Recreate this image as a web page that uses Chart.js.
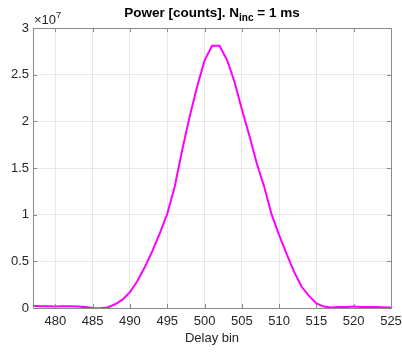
<!DOCTYPE html>
<html>
<head>
<meta charset="utf-8">
<script src="https://cdn.jsdelivr.net/npm/chart.js@4/dist/chart.umd.min.js"></script>
<style>
  html, body { margin: 0; padding: 0; background: #fff; }
</style>
</head>
<body>
<canvas id="c" width="402" height="352"></canvas>
<script>
// delay bins and power, power in units of 1e7 counts
const delayBins = [477, 478, 479, 480, 481, 482, 483, 484, 485, 486, 487, 488, 489, 490, 491, 492,
  493, 494, 495, 496, 497, 498, 499, 500, 501, 502, 503, 504, 505, 506, 507, 508, 509, 510,
  511, 512, 513, 514, 515, 516, 517, 518, 519, 520, 521, 522, 523, 524, 525];
const power = [0.025, 0.02, 0.02, 0.015, 0.02, 0.02, 0.015, 0.01, 0.0, -0.003, 0.005, 0.04, 0.09, 0.17, 0.29, 0.44,
  0.61, 0.8, 1.01, 1.3, 1.69, 2.05, 2.37, 2.65, 2.81, 2.81, 2.66, 2.43, 2.13, 1.85, 1.55, 1.3, 1.0, 0.78,
  0.58, 0.39, 0.23, 0.13, 0.05, 0.015, 0.005, 0.01, 0.01, 0.015, 0.01, 0.01, 0.01, 0.005, 0.005];
const xTicks = [480, 485, 490, 495, 500, 505, 510, 515, 520, 525];
const yTicks = [0, 0.5, 1, 1.5, 2, 2.5, 3];
const xRange = [477, 525];
const yRange = [0, 3];

const FONT = "'Liberation Sans', Arial, Helvetica, sans-serif";
const AXIS_COL = "#8a8a8a";
const TEXT_COL = "#262626";
const FS = 13;

const matlabAxes = {
  id: "matlabAxes",
  afterDraw(chart) {
    const { ctx, chartArea: a, scales: { x, y } } = chart;
    ctx.save();
    // inward tick marks on all four sides
    ctx.strokeStyle = AXIS_COL;
    ctx.lineWidth = 1;
    ctx.beginPath();
    for (const v of xTicks) {
      const px = Math.round(x.getPixelForValue(v)) + 0.5;
      ctx.moveTo(px, a.bottom); ctx.lineTo(px, a.bottom - 4);
      ctx.moveTo(px, a.top); ctx.lineTo(px, a.top + 4);
    }
    for (const v of yTicks) {
      const py = Math.round(y.getPixelForValue(v)) + 0.5;
      ctx.moveTo(a.left, py); ctx.lineTo(a.left + 4, py);
      ctx.moveTo(a.right, py); ctx.lineTo(a.right - 4, py);
    }
    ctx.stroke();
    // box
    ctx.strokeRect(Math.round(a.left) + 0.5, Math.round(a.top) + 0.5,
      Math.round(a.right - a.left), Math.round(a.bottom - a.top));

    // title with subscript
    const big = "bold 13.5px " + FONT, small = "bold 10px " + FONT;
    const p1 = "Power [counts]. N", p2 = "inc", p3 = " = 1 ms";
    ctx.font = big; const w1 = ctx.measureText(p1).width, w3 = ctx.measureText(p3).width;
    ctx.font = small; const w2 = ctx.measureText(p2).width;
    let tx = (a.left + a.right) / 2 - (w1 + w2 + w3) / 2;
    const base = 17;
    ctx.fillStyle = "#000";
    ctx.textBaseline = "alphabetic";
    ctx.textAlign = "left";
    ctx.font = big; ctx.fillText(p1, tx, base); tx += w1;
    ctx.font = small; ctx.fillText(p2, tx, base + 4); tx += w2;
    ctx.font = big; ctx.fillText(p3, tx, base);

    // exponent label
    ctx.fillStyle = TEXT_COL;
    ctx.font = FS + "px " + FONT;
    ctx.fillText("\u00d710", a.left + 1, 24);
    const we = ctx.measureText("\u00d710").width;
    ctx.font = "9.5px " + FONT;
    ctx.fillText("7", a.left + 1 + we, 18);
    ctx.restore();
  }
};

new Chart(document.getElementById("c"), {
  type: "line",
  data: {
    datasets: [{
      data: delayBins.map((b, i) => ({ x: b, y: power[i] })),
      borderColor: "#ff00ff",
      borderWidth: 2,
      pointRadius: 0,
      tension: 0,
      fill: false,
    }],
  },
  options: {
    responsive: false,
    animation: false,
    devicePixelRatio: 1,
    layout: { padding: { left: 0, right: 0, top: 28, bottom: 0 } },
    plugins: { legend: { display: false }, tooltip: { enabled: false }, title: { display: false } },
    scales: {
      x: {
        type: "linear",
        min: xRange[0], max: xRange[1],
        afterBuildTicks: (s) => { s.ticks = xTicks.map((v) => ({ value: v })); },
        afterFit: (s) => { s.height = 44; s.paddingRight = 11; },
        grid: { color: "#e8e8e8", drawTicks: false },
        border: { display: false },
        ticks: { color: TEXT_COL, font: { family: FONT, size: FS }, padding: 6, maxRotation: 0 },
        title: { display: true, text: "Delay bin", color: TEXT_COL, font: { family: FONT, size: FS }, padding: { top: 0, bottom: 6 } },
      },
      y: {
        type: "linear",
        min: yRange[0], max: yRange[1],
        afterBuildTicks: (s) => { s.ticks = yTicks.map((v) => ({ value: v })); },
        afterFit: (s) => { s.width = 33; },
        grid: { color: "#e8e8e8", drawTicks: false },
        border: { display: false },
        ticks: { color: TEXT_COL, font: { family: FONT, size: FS }, padding: 4, callback: (v) => String(v) },
      },
    },
  },
  plugins: [matlabAxes],
});
</script>
</body>
</html>
